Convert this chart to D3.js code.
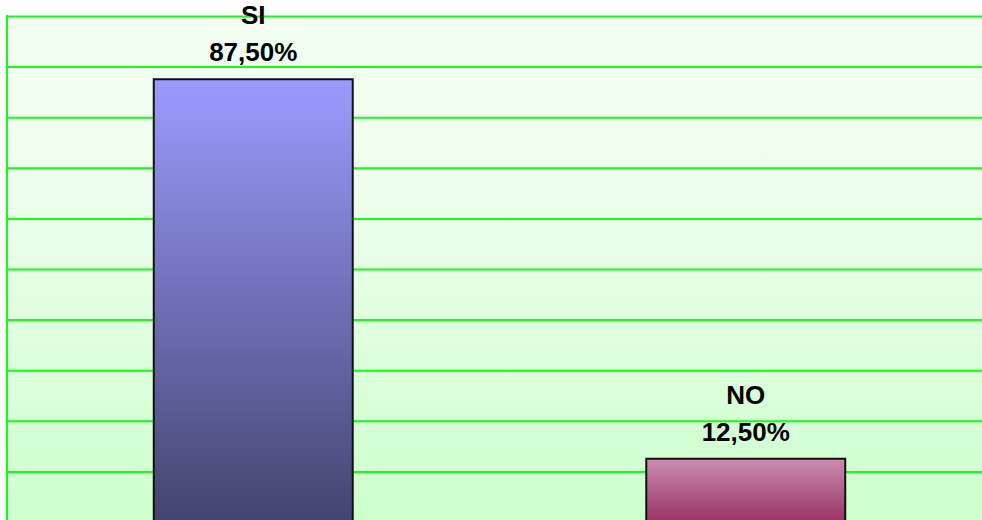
<!DOCTYPE html>
<html>
<head>
<meta charset="utf-8">
<script src="https://cdn.jsdelivr.net/npm/d3@7"></script>
<style>
  html, body { margin: 0; padding: 0; background: #ffffff; }
  svg { display: block; }
</style>
</head>
<body>
<svg id="chart" width="982" height="520"></svg>
<script>
// Survey answers and their shares (percent)
const categories = ["SI", "NO"];
const values = [87.5, 12.5];
const valueLabels = ["87,50%", "12,50%"];
const gridTicks = [0, 10, 20, 30, 40, 50, 60, 70, 80, 90, 100];

// Bar fills: top and bottom gradient stops per category
const barTop = ["#9b9bff", "#cc8cb0"];
const barBottom = ["#444470", "#993366"];

const svg = d3.select("#chart");
const W = 982, H = 520;
const plot = { left: 7, top: 16, right: 992, bottom: 522 };

const x = d3.scaleBand()
  .domain(categories)
  .range([plot.left, plot.right])
  .paddingInner(0.596)
  .paddingOuter(0.298);

const y = d3.scaleLinear()
  .domain([0, 100])
  .range([plot.bottom, plot.top]);

const defs = svg.append("defs");

// Plot area background: pale green fading to a fuller green
const bg = defs.append("linearGradient")
  .attr("id", "plotBg").attr("x1", 0).attr("y1", 0).attr("x2", 0).attr("y2", 1);
bg.append("stop").attr("offset", "0%").attr("stop-color", "#f2fdf2");
bg.append("stop").attr("offset", "30%").attr("stop-color", "#effdef");
bg.append("stop").attr("offset", "100%").attr("stop-color", "#ccffcc");

categories.forEach((c, i) => {
  const g = defs.append("linearGradient")
    .attr("id", "bar" + i).attr("x1", 0).attr("y1", 0).attr("x2", 0).attr("y2", 1);
  g.append("stop").attr("offset", "0%").attr("stop-color", barTop[i]);
  g.append("stop").attr("offset", "100%").attr("stop-color", barBottom[i]);
});

svg.append("rect")
  .attr("x", plot.left).attr("y", plot.top)
  .attr("width", plot.right - plot.left).attr("height", plot.bottom - plot.top)
  .attr("fill", "url(#plotBg)");

// Horizontal gridlines
svg.append("g")
  .attr("class", "grid")
  .attr("transform", `translate(${plot.left},0)`)
  .call(d3.axisLeft(y).tickValues(gridTicks).tickSize(-(plot.right - plot.left)).tickFormat(""))
  .call(g => g.select(".domain").remove())
  .call(g => g.selectAll("line").attr("stroke", "#11ff11").attr("stroke-width", 2));

// Left axis line
svg.append("line")
  .attr("x1", plot.left).attr("x2", plot.left)
  .attr("y1", plot.top - 1).attr("y2", plot.bottom)
  .attr("stroke", "#11ff11").attr("stroke-width", 2);

// Bars
svg.append("g").selectAll("rect")
  .data(values)
  .join("rect")
  .attr("x", (d, i) => x(categories[i]))
  .attr("y", d => y(d))
  .attr("width", x.bandwidth())
  .attr("height", d => y(0) - y(d))
  .attr("fill", (d, i) => `url(#bar${i})`)
  .attr("stroke", "#111111")
  .attr("stroke-width", 2);

// Data labels: category name above the value
const labels = svg.append("g")
  .attr("font-family", "'Liberation Sans', Arial, sans-serif")
  .attr("font-weight", "bold")
  .attr("font-size", 26)
  .attr("fill", "#000")
  .attr("text-anchor", "middle");

values.forEach((v, i) => {
  const cx = x(categories[i]) + x.bandwidth() / 2;
  labels.append("text").attr("x", cx).attr("y", y(v) - 55).text(categories[i]);
  labels.append("text").attr("x", cx).attr("y", y(v) - 18).text(valueLabels[i]);
});
</script>
</body>
</html>
